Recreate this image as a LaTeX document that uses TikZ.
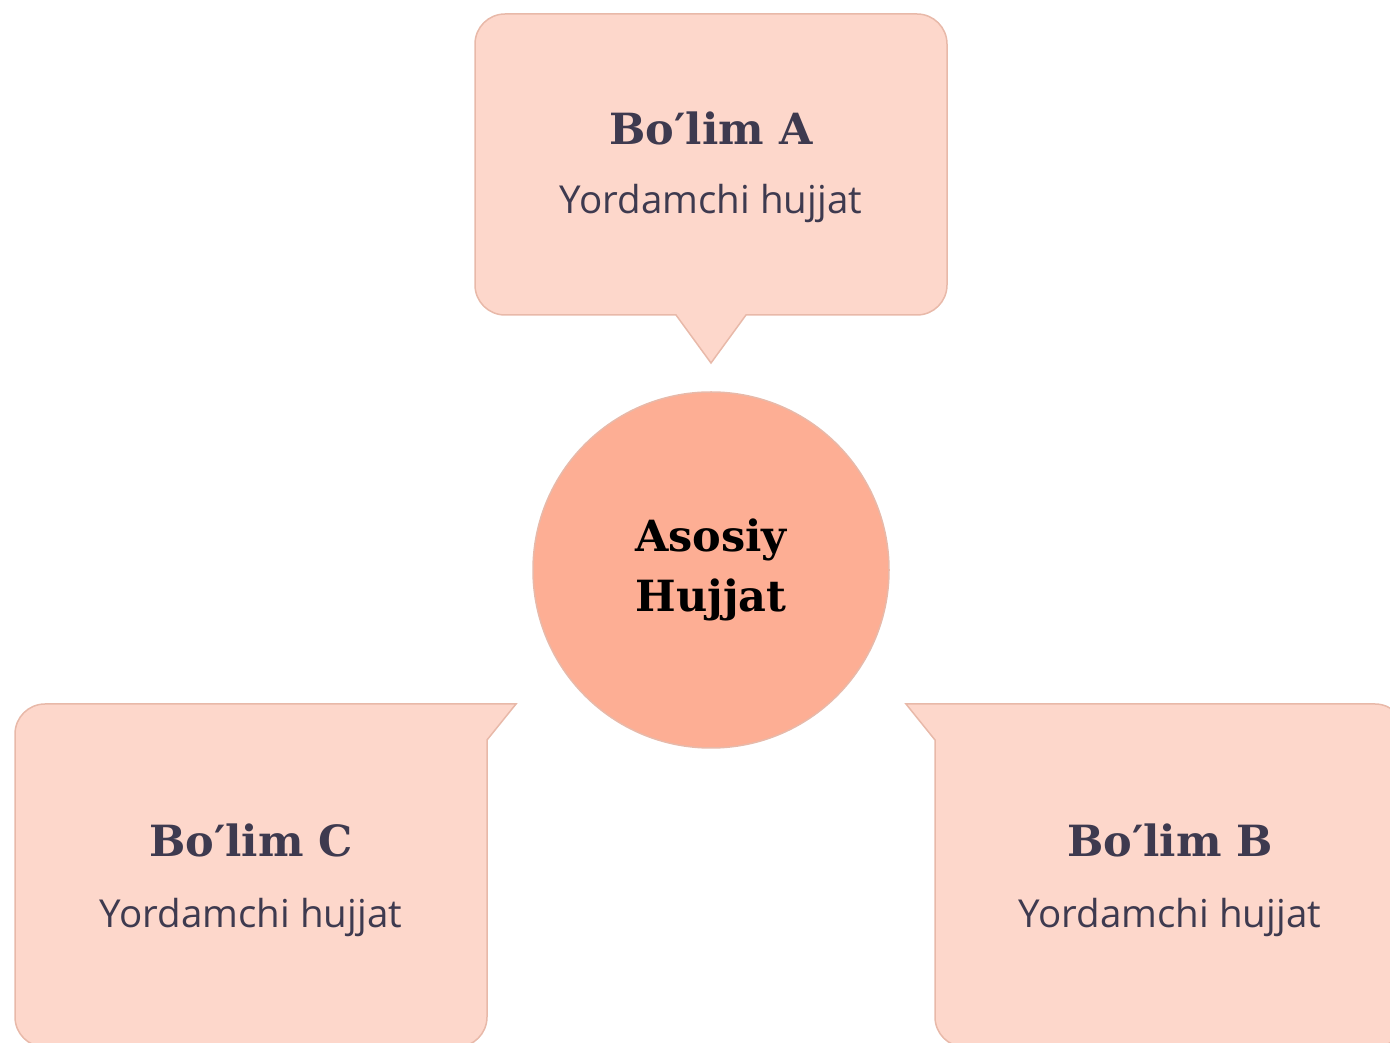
\documentclass[tikz,border=0pt]{standalone}
\usepackage{fontspec}
\setmainfont{Open Sans}
\newfontfamily\headfont{DejaVu Serif}
\definecolor{boxfill}{HTML}{FDD7CB}
\definecolor{boxline}{HTML}{E8B9A9}
\definecolor{circfill}{HTML}{FDAE94}
\definecolor{txtdark}{HTML}{3E3A4F}
\tikzset{
  bubble/.style={fill=boxfill, draw=boxline, line width=1.5pt},
  headtxt/.style={font=\headfont\bfseries\fontsize{43}{52}\selectfont, text=txtdark, inner sep=0pt},
  subtxt/.style={font=\fontsize{38.5}{46}\selectfont, text=txtdark, inner sep=0pt},
  hub/.style={circle, fill=circfill, draw=boxline, line width=1.5pt, minimum size=356pt, inner sep=0pt,
    font=\headfont\bfseries\fontsize{43}{60}\selectfont, text=black, align=center}
}
\begin{document}
\begin{tikzpicture}[x=1pt,y=1pt]
\useasboundingbox (0,0) rectangle (1390,1042);
\clip (0,0) rectangle (1390,1042);
% Box A (top)
\draw[bubble] (505,1028) -- (917,1028) arc[start angle=90,end angle=0,radius=30pt]
  -- (947,757) arc[start angle=0,end angle=-90,radius=30pt]
  -- (746,727) -- (711,679) -- (676,727) -- (505,727)
  arc[start angle=270,end angle=180,radius=30pt]
  -- (475,998) arc[start angle=180,end angle=90,radius=30pt] -- cycle;
% Box C (bottom left)
\draw[bubble] (516,338) -- (45,338) arc[start angle=90,end angle=180,radius=30pt]
  -- (15,25) arc[start angle=180,end angle=270,radius=30pt]
  -- (457,-5) arc[start angle=270,end angle=360,radius=30pt]
  -- (487,302) -- cycle;
% Box B (bottom right)
\draw[bubble] (906,338) -- (1375,338) arc[start angle=90,end angle=0,radius=30pt]
  -- (1405,25) arc[start angle=0,end angle=-90,radius=30pt]
  -- (965,-5) arc[start angle=270,end angle=180,radius=30pt]
  -- (935,302) -- cycle;
% Hub
\node[hub] (hub) at (711,472) {Asosiy\\Hujjat};
% Texts
\node[headtxt] (ah) at (711,914) {Bo′lim A};
\node[subtxt] (as) at (711,838) {Yordamchi hujjat};
\node[headtxt] (ch) at (251,202) {Bo′lim C};
\node[subtxt] (cs) at (251,125) {Yordamchi hujjat};
\node[headtxt] (bh) at (1170,202) {Bo′lim B};
\node[subtxt] (bs) at (1170,125) {Yordamchi hujjat};
\end{tikzpicture}
\end{document}
